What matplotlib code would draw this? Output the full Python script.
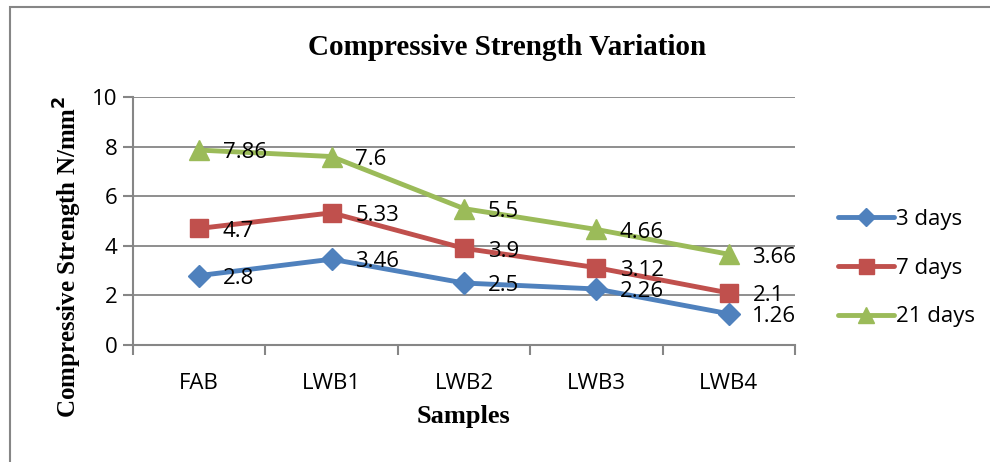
import matplotlib
matplotlib.use("Agg")
import matplotlib.pyplot as plt
from matplotlib.patches import Rectangle

samples = ["FAB", "LWB1", "LWB2", "LWB3", "LWB4"]
days_3 = [2.8, 3.46, 2.5, 2.26, 1.26]
days_7 = [4.7, 5.33, 3.9, 3.12, 2.1]
days_21 = [7.86, 7.6, 5.5, 4.66, 3.66]
series_names = ["3 days", "7 days", "21 days"]

colors = ["#4F81BD", "#C0504D", "#9BBB59"]
markers = ["D", "s", "^"]
msizes = [11, 13.5, 14]

sans = ["Open Sans", "DejaVu Sans"]
serif = ["Liberation Serif", "DejaVu Serif"]

fig = plt.figure(figsize=(9.9, 4.62), dpi=100)
ax = fig.add_axes([0.1343, 0.2532, 0.803 - 0.1343, 0.79 - 0.2532])

# chart border (right/bottom fall outside the picture)
fig.patches.append(Rectangle((10 / 990, -0.1), 1.2, 1 - 7 / 462 + 0.1,
                             transform=fig.transFigure, fill=False,
                             edgecolor="#868686", lw=1.5))

x = list(range(len(samples)))
for vals, name, c, m, ms in zip([days_3, days_7, days_21], series_names,
                                colors, markers, msizes):
    ax.plot(x, vals, color=c, lw=3.5, marker=m, ms=ms, label=name,
            solid_capstyle="round", zorder=3)
    for xi, v in zip(x, vals):
        ax.annotate(f"{v:g}", (xi, v), xytext=(17, -2), textcoords="offset points",
                    ha="left", va="center", fontsize=16, family=sans, zorder=4)

ax.set_xlim(-0.5, 4.5)
ax.set_ylim(0, 10)
ax.set_yticks(range(0, 11, 2))
ax.set_xticks(x)
ax.set_xticklabels(samples)
ax.set_xticks([i - 0.5 for i in range(6)], minor=True)
ax.yaxis.grid(True, color="#868686", lw=1.3)
ax.set_axisbelow(True)
for s in ["top", "right"]:
    ax.spines[s].set_visible(False)
for s in ["left", "bottom"]:
    ax.spines[s].set_color("#868686")
    ax.spines[s].set_linewidth(1.5)
ax.tick_params(axis="x", which="major", length=0, pad=20)
ax.tick_params(axis="x", which="minor", length=7, color="#868686", width=1.5)
ax.tick_params(axis="y", length=7, color="#868686", width=1.5, pad=4)
for lab in ax.get_xticklabels() + ax.get_yticklabels():
    lab.set_family(sans)
    lab.set_fontsize(16)

ax.set_xlabel("Samples", family=serif, fontsize=19, fontweight="bold", labelpad=8)
ax.set_ylabel("Compressive Strength N/mm$^\\mathbf{2}$", family=serif, fontsize=18,
              fontweight="bold")
ax.yaxis.set_label_coords(-0.074, 0.355)
fig.text(0.512, 0.898, "Compressive Strength Variation", family=serif, fontsize=21,
         fontweight="bold", ha="center", va="center")

leg = ax.legend(loc="center left", bbox_to_anchor=(1.035, 0.31), frameon=False,
                prop={"family": sans, "size": 16}, handlelength=2.5,
                handletextpad=0.1, labelspacing=1.25, markerscale=0.8)

fig.savefig("out.png", dpi=100)
